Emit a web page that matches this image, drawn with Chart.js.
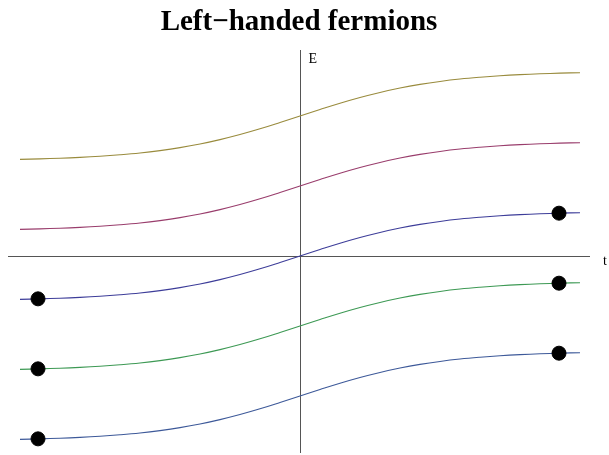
<!DOCTYPE html>
<html>
<head>
<meta charset="utf-8">
<script src="https://cdn.jsdelivr.net/npm/chart.js@4"></script>
<style>
  html, body { margin: 0; padding: 0; background: #fff; }
  #wrap { width: 609px; height: 455px; }
</style>
</head>
<body>
<div id="wrap"><canvas id="chart" width="609" height="455"></canvas></div>
<script>
// --- Data (t in units of 100px, E in units of one level) ---
const tValues = [-2.8, -2.6, -2.4, -2.2, -2.0, -1.8, -1.6, -1.4, -1.2, -1.0, -0.8, -0.6, -0.4, -0.2,
                 0, 0.2, 0.4, 0.6, 0.8, 1.0, 1.2, 1.4, 1.6, 1.8, 2.0, 2.2, 2.4, 2.6, 2.8];

const levelPlus2 = [1.381, 1.388, 1.397, 1.409, 1.425, 1.446, 1.472, 1.506, 1.548, 1.600, 1.663, 1.735, 1.817, 1.907,
                    2.000, 2.093, 2.183, 2.265, 2.337, 2.400, 2.452, 2.494, 2.528, 2.554, 2.575, 2.591, 2.603, 2.612, 2.619];
const levelPlus1 = [0.381, 0.388, 0.397, 0.409, 0.425, 0.446, 0.472, 0.506, 0.548, 0.600, 0.663, 0.735, 0.817, 0.907,
                    1.000, 1.093, 1.183, 1.265, 1.337, 1.400, 1.452, 1.494, 1.528, 1.554, 1.575, 1.591, 1.603, 1.612, 1.619];
const levelZero = [-0.619, -0.612, -0.603, -0.591, -0.575, -0.554, -0.528, -0.494, -0.452, -0.400, -0.337, -0.265, -0.183, -0.093,
                   0, 0.093, 0.183, 0.265, 0.337, 0.400, 0.452, 0.494, 0.528, 0.554, 0.575, 0.591, 0.603, 0.612, 0.619];
const levelMinus1 = [-1.619, -1.612, -1.603, -1.591, -1.575, -1.554, -1.528, -1.494, -1.452, -1.400, -1.337, -1.265, -1.183, -1.093,
                     -1.000, -0.907, -0.817, -0.735, -0.663, -0.600, -0.548, -0.506, -0.472, -0.446, -0.425, -0.409, -0.397, -0.388, -0.381];
const levelMinus2 = [-2.619, -2.612, -2.603, -2.591, -2.575, -2.554, -2.528, -2.494, -2.452, -2.400, -2.337, -2.265, -2.183, -2.093,
                     -2.000, -1.907, -1.817, -1.735, -1.663, -1.600, -1.548, -1.506, -1.472, -1.446, -1.425, -1.409, -1.397, -1.388, -1.381];

// filled states (black dots)
const dotT = [-2.62, -2.62, -2.62, 2.59, 2.59, 2.59];
const dotE = [-0.612, -1.612, -2.612, 0.612, -0.388, -1.388];

const titleText = 'Left\u2212handed fermions';
const xLabel = 't';
const yLabel = 'E';

// --- helpers ---
function toPoints(ys) {
  return tValues.map((t, i) => ({ x: t, y: ys[i] }));
}

function curve(ys, color) {
  return {
    type: 'line',
    data: toPoints(ys),
    borderColor: color,
    borderWidth: 1.1,
    pointRadius: 0,
    tension: 0.4,
    fill: false,
    clip: false,
    order: 2,
  };
}

// --- axes through the origin + axis labels ---
const originAxes = {
  id: 'originAxes',
  beforeDatasetsDraw(chart) {
    const { ctx, chartArea, scales } = chart;
    const x0 = Math.round(scales.x.getPixelForValue(0)) + 0.5;
    const y0 = Math.round(scales.y.getPixelForValue(0)) + 0.5;
    ctx.save();
    ctx.strokeStyle = '#555';
    ctx.lineWidth = 1;
    ctx.beginPath();
    ctx.moveTo(chartArea.left, y0);
    ctx.lineTo(chartArea.right, y0);
    ctx.moveTo(x0, chartArea.top);
    ctx.lineTo(x0, chartArea.bottom);
    ctx.stroke();

    ctx.fillStyle = '#000';
    ctx.font = '14px "Liberation Serif", "DejaVu Serif", serif';
    ctx.textBaseline = 'alphabetic';
    ctx.textAlign = 'left';
    ctx.fillText(yLabel, x0 + 8, chartArea.top + 13);
    ctx.fillText(xLabel, chartArea.right + 13, y0 + 8);
    ctx.restore();
  }
};

new Chart(document.getElementById('chart'), {
  type: 'scatter',
  data: {
    datasets: [
      curve(levelPlus2, '#998b3d'),
      curve(levelPlus1, '#993d6c'),
      curve(levelZero, '#3d3d99'),
      curve(levelMinus1, '#3d9954'),
      curve(levelMinus2, '#3d5999'),
      {
        type: 'scatter',
        data: dotT.map((t, i) => ({ x: t, y: dotE[i] })),
        backgroundColor: '#000',
        borderColor: '#000',
        pointRadius: 7,
        clip: false,
        order: 1,
      }
    ]
  },
  options: {
    responsive: false,
    animation: false,
    layout: { autoPadding: false, padding: { left: 8, right: 19, top: 0, bottom: 2 } },
    plugins: {
      legend: { display: false },
      tooltip: { enabled: false },
      title: {
        display: true,
        text: titleText,
        color: '#000',
        font: { family: '"Liberation Serif", "DejaVu Serif", serif', size: 29, weight: 'bold', lineHeight: 1.2 },
        padding: { top: 5, bottom: 10.2 },
      }
    },
    scales: {
      x: { type: 'linear', display: false, min: -2.92, max: 2.90 },
      y: { type: 'linear', display: false, min: -2.814, max: 2.943 }
    }
  },
  plugins: [originAxes]
});
</script>
</body>
</html>
